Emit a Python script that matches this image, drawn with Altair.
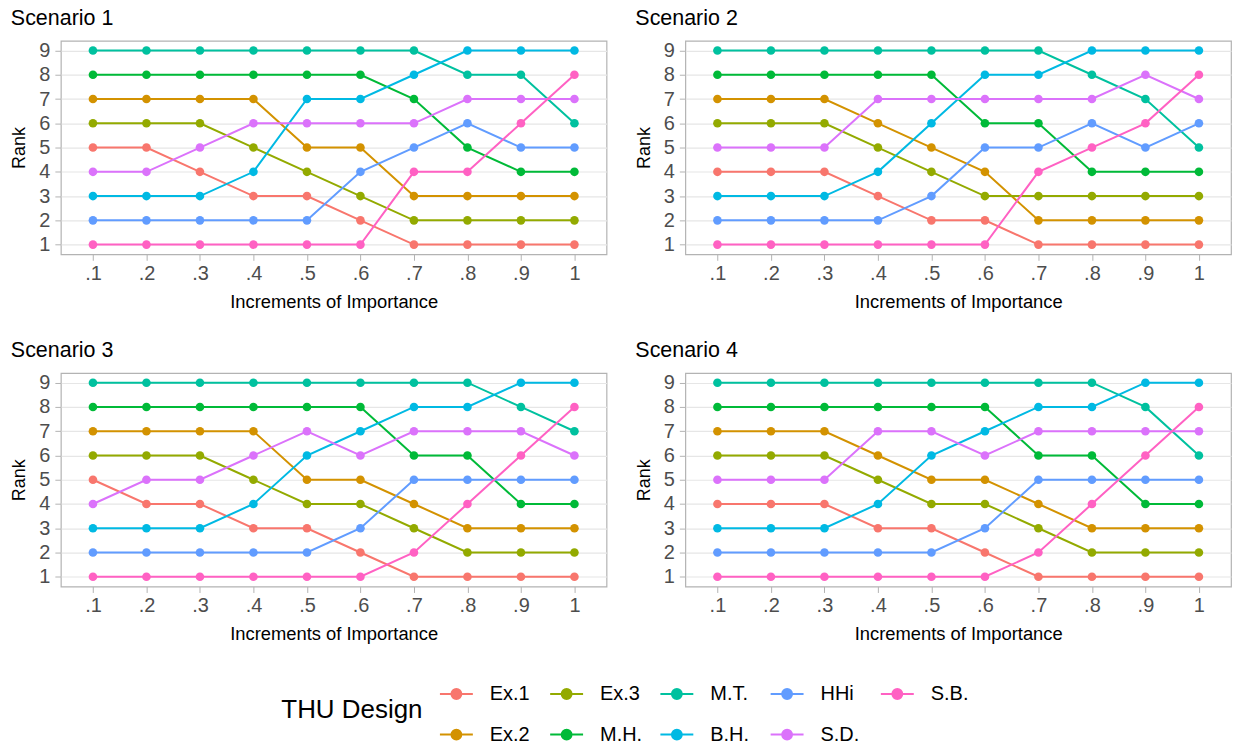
import altair as alt
import pandas as pd

designs = ["Ex.1", "Ex.2", "Ex.3", "M.H.", "M.T.", "B.H.", "HHi", "S.D.", "S.B."]
colors = ["#F8766D", "#D39200", "#93AA00", "#00BA38", "#00C19F", "#00B9E3", "#619CFF", "#DB72FB", "#FF61C3"]
increments = [".1", ".2", ".3", ".4", ".5", ".6", ".7", ".8", ".9", "1"]
scenarios = ["Scenario 1", "Scenario 2", "Scenario 3", "Scenario 4"]

scenario1 = {
    "Ex.1": [5, 5, 4, 3, 3, 2, 1, 1, 1, 1],
    "Ex.2": [7, 7, 7, 7, 5, 5, 3, 3, 3, 3],
    "Ex.3": [6, 6, 6, 5, 4, 3, 2, 2, 2, 2],
    "M.H.": [8, 8, 8, 8, 8, 8, 7, 5, 4, 4],
    "M.T.": [9, 9, 9, 9, 9, 9, 9, 8, 8, 6],
    "B.H.": [3, 3, 3, 4, 7, 7, 8, 9, 9, 9],
    "HHi":  [2, 2, 2, 2, 2, 4, 5, 6, 5, 5],
    "S.D.": [4, 4, 5, 6, 6, 6, 6, 7, 7, 7],
    "S.B.": [1, 1, 1, 1, 1, 1, 4, 4, 6, 8],
}
scenario2 = {
    "Ex.1": [4, 4, 4, 3, 2, 2, 1, 1, 1, 1],
    "Ex.2": [7, 7, 7, 6, 5, 4, 2, 2, 2, 2],
    "Ex.3": [6, 6, 6, 5, 4, 3, 3, 3, 3, 3],
    "M.H.": [8, 8, 8, 8, 8, 6, 6, 4, 4, 4],
    "M.T.": [9, 9, 9, 9, 9, 9, 9, 8, 7, 5],
    "B.H.": [3, 3, 3, 4, 6, 8, 8, 9, 9, 9],
    "HHi":  [2, 2, 2, 2, 3, 5, 5, 6, 5, 6],
    "S.D.": [5, 5, 5, 7, 7, 7, 7, 7, 8, 7],
    "S.B.": [1, 1, 1, 1, 1, 1, 4, 5, 6, 8],
}
scenario3 = {
    "Ex.1": [5, 4, 4, 3, 3, 2, 1, 1, 1, 1],
    "Ex.2": [7, 7, 7, 7, 5, 5, 4, 3, 3, 3],
    "Ex.3": [6, 6, 6, 5, 4, 4, 3, 2, 2, 2],
    "M.H.": [8, 8, 8, 8, 8, 8, 6, 6, 4, 4],
    "M.T.": [9, 9, 9, 9, 9, 9, 9, 9, 8, 7],
    "B.H.": [3, 3, 3, 4, 6, 7, 8, 8, 9, 9],
    "HHi":  [2, 2, 2, 2, 2, 3, 5, 5, 5, 5],
    "S.D.": [4, 5, 5, 6, 7, 6, 7, 7, 7, 6],
    "S.B.": [1, 1, 1, 1, 1, 1, 2, 4, 6, 8],
}
scenario4 = {
    "Ex.1": [4, 4, 4, 3, 3, 2, 1, 1, 1, 1],
    "Ex.2": [7, 7, 7, 6, 5, 5, 4, 3, 3, 3],
    "Ex.3": [6, 6, 6, 5, 4, 4, 3, 2, 2, 2],
    "M.H.": [8, 8, 8, 8, 8, 8, 6, 6, 4, 4],
    "M.T.": [9, 9, 9, 9, 9, 9, 9, 9, 8, 6],
    "B.H.": [3, 3, 3, 4, 6, 7, 8, 8, 9, 9],
    "HHi":  [2, 2, 2, 2, 2, 3, 5, 5, 5, 5],
    "S.D.": [5, 5, 5, 7, 7, 6, 7, 7, 7, 7],
    "S.B.": [1, 1, 1, 1, 1, 1, 2, 4, 6, 8],
}
all_scenarios = [scenario1, scenario2, scenario3, scenario4]

# legend order (column-major like the reference, 2 rows)
legend_order = ["Ex.1", "Ex.3", "M.T.", "HHi", "S.B.", "Ex.2", "M.H.", "B.H.", "S.D."]
legend_colors = [colors[designs.index(d)] for d in legend_order]

FONT = "Liberation Sans"

def make_df(sc):
    rows = []
    for d in designs:
        for inc, r in zip(increments, sc[d]):
            rows.append({"design": d, "inc": inc, "rank": r})
    return pd.DataFrame(rows)

legend = alt.Legend(
    title="THU Design",
    orient="none",
    legendX=221,
    legendY=637,
    direction="horizontal",
    columns=5,
    titleOrient="left",
    titleAnchor="middle",
    titleBaseline="middle",
    titleFontSize=26,
    titleFontWeight="normal",
    titleColor="black",
    titleFont=FONT,
    titlePadding=16,
    labelFontSize=20,
    labelFont=FONT,
    labelColor="black",
    symbolType="M-1,0L1,0M0.3,0A0.3,0.3,0,1,1,-0.3,0A0.3,0.3,0,1,1,0.3,0Z",
    symbolSize=1089,
    symbolStrokeWidth=2,
    symbolOpacity=1,
    gridAlign="all",
    columnPadding=13.5,
    rowPadding=13,
    labelOffset=16,
)

def panel(sc, title):
    df = make_df(sc)
    base = alt.Chart(df).encode(
        x=alt.X(
            "inc:O",
            sort=increments,
            scale=alt.Scale(padding=0.6),
            axis=alt.Axis(
                title="Increments of Importance",
                labelAngle=0,
                grid=False,
                domain=False,
                ticks=True,
                tickSize=6,
                tickColor="#B3B3B3",
                labelFontSize=20,
                labelColor="#4D4D4D",
                labelFont=FONT,
                labelPadding=3,
                titleFontSize=18.4,
                titleFontWeight="normal",
                titleColor="black",
                titleFont=FONT,
                titlePadding=9,
            ),
        ),
        y=alt.Y(
            "rank:Q",
            scale=alt.Scale(domain=[0.6, 9.4], nice=False, zero=False),
            axis=alt.Axis(
                values=list(range(1, 10)),
                title="Rank",
                grid=True,
                gridColor="#E6E6E6",
                gridWidth=1.2,
                domain=False,
                ticks=True,
                tickSize=6,
                tickColor="#B3B3B3",
                labelFontSize=20,
                labelColor="#4D4D4D",
                labelFont=FONT,
                labelPadding=5,
                titleFontSize=18,
                titleFontWeight="normal",
                titleColor="black",
                titleFont=FONT,
                titlePadding=10,
            ),
        ),
    )
    lines = base.mark_line(strokeWidth=2).encode(
        stroke=alt.Stroke("design:N", scale=alt.Scale(domain=legend_order, range=legend_colors), legend=legend),
        detail="design:N",
    )
    pts = base.mark_point(filled=True, size=75, opacity=1, strokeWidth=0).encode(
        fill=alt.Fill("design:N", scale=alt.Scale(domain=legend_order, range=legend_colors), legend=legend),
    )
    return alt.layer(lines, pts).properties(
        width=547,
        height=214,
        title=alt.TitleParams(title, anchor="start", fontSize=21.5, fontWeight="normal", font=FONT, color="black", offset=11),
    )

p = [panel(sc, t) for sc, t in zip(all_scenarios, scenarios)]

chart = alt.vconcat(
    alt.hconcat(p[0], p[1], spacing=27),
    alt.hconcat(p[2], p[3], spacing=27),
    spacing=28,
).properties(
    padding={"left": 10, "top": 6, "right": 4, "bottom": 0},
    background="white",
).configure_view(
    stroke="#B3B3B3",
    strokeWidth=1.2,
)

chart.save("out.html", embed_options={"renderer": "svg", "actions": False})
